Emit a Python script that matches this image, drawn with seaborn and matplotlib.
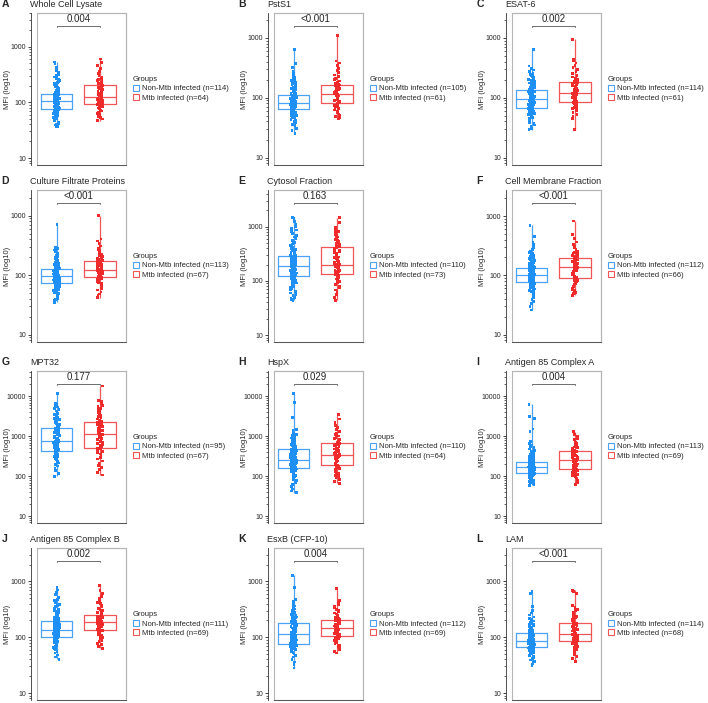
import numpy as np
import pandas as pd
import matplotlib
matplotlib.use("Agg")
import matplotlib.pyplot as plt
import seaborn as sns
from matplotlib.patches import Patch, Rectangle
from matplotlib.ticker import LogLocator, FuncFormatter, NullFormatter

# MFI values (one value per dot)
wcl_non = [36, 37, 39, 40, 42, 44, 46, 48, 50, 52, 54, 55, 57, 58, 60, 61, 62, 63, 65, 66, 67, 68, 70, 71, 72, 73, 75, 76,
           77, 78, 79, 80, 81, 82, 83, 84, 85, 86, 87, 88, 89, 90, 91, 92, 93, 94, 95, 96, 97, 98, 99, 100, 100, 101, 102, 103, 104,
           105, 106, 107, 108, 109, 110, 111, 112, 113, 114, 115, 116, 117, 118, 119, 120, 122, 124, 125, 127, 128, 130, 132, 133, 135, 137, 139, 141,
           143, 146, 149, 152, 155, 158, 162, 166, 170, 175, 180, 186, 192, 200, 208, 215, 225, 235, 245, 258, 270, 285, 300, 320, 340, 370, 420, 500, 530]
wcl_mtb = [47, 50, 53, 56, 60, 63, 66, 70, 73, 76, 79, 82, 85, 88, 90, 92,
           93, 95, 97, 99, 101, 103, 105, 107, 109, 111, 113, 115, 117, 119, 121, 124,
           126, 130, 134, 138, 142, 146, 150, 155, 160, 165, 170, 176, 182, 188, 194, 199,
           205, 212, 220, 228, 236, 245, 255, 270, 285, 300, 330, 360, 400, 460, 520, 600]

psts1_non = [25, 28, 31, 34, 36, 38, 40, 42, 43, 44, 46, 47, 48, 50, 51, 52, 53, 54, 55, 56, 57, 58, 59, 60, 62, 63,
             64, 65, 66, 67, 68, 69, 70, 71, 72, 72, 73, 74, 74, 75, 76, 76, 77, 78, 78, 79, 79, 80, 80, 81, 82, 82,
             83, 84, 85, 86, 86, 87, 88, 89, 90, 91, 92, 93, 94, 95, 96, 97, 98, 99, 100, 101, 102, 104, 105, 106, 108, 109, 111,
             113, 116, 119, 122, 126, 130, 134, 138, 143, 148, 153, 158, 164, 170, 177, 185, 193, 200, 210, 220, 235, 250, 280, 320, 370, 640]
psts1_mtb = [44, 46, 48, 50, 53, 56, 59, 62, 65, 68, 71, 73, 75, 77, 79,
             80, 83, 86, 89, 92, 95, 98, 101, 104, 107, 109, 111, 113, 115, 116,
             117, 120, 123, 126, 129, 132, 135, 138, 141, 144, 147, 150, 153, 156, 159, 163,
             168, 175, 182, 190, 200, 210, 225, 240, 260, 285, 310, 340, 380, 410, 1100]

esat6_non = [29, 31, 33, 35, 37, 39, 41, 43, 45, 47, 48, 50, 51, 52, 54, 55, 56, 57, 58, 59, 60, 61, 62, 63, 64, 65, 66, 67,
             68, 69, 70, 71, 72, 73, 74, 75, 76, 77, 78, 79, 80, 81, 82, 83, 84, 85, 86, 87, 88, 89, 89, 90, 91, 92, 92, 93, 94,
             95, 96, 97, 98, 100, 101, 102, 104, 105, 106, 108, 109, 111, 112, 114, 115, 117, 119, 120, 122, 124, 125, 127, 128, 130, 131, 133, 134,
             136, 139, 142, 145, 148, 151, 154, 157, 160, 164, 168, 172, 176, 180, 185, 190, 196, 202, 210, 218, 226, 235, 245, 255, 270, 290, 310, 337, 640]
esat6_mtb = [29, 45, 48, 52, 56, 60, 63, 66, 69, 72, 75, 78, 80, 82, 84,
             85, 88, 91, 94, 97, 100, 102, 104, 106, 108, 110, 112, 114, 116, 117,
             118, 122, 126, 130, 134, 138, 142, 147, 152, 157, 162, 167, 172, 177, 181, 185,
             190, 196, 203, 212, 222, 235, 250, 270, 295, 320, 350, 380, 410, 435, 940]

cfp_non = [35, 37, 39, 41, 43, 45, 47, 49, 51, 53, 55, 56, 58, 59, 60, 62, 63, 64, 65, 66, 67, 68, 69, 70, 71, 72, 73, 74,
           75, 76, 77, 78, 79, 80, 81, 82, 83, 84, 85, 86, 86, 87, 88, 89, 89, 90, 91, 91, 92, 93, 93, 94, 95, 95, 96, 96,
           97, 98, 99, 100, 101, 102, 103, 104, 105, 106, 107, 108, 109, 110, 111, 112, 113, 114, 115, 116, 117, 118, 119, 120, 121, 122, 123, 124, 126,
           128, 131, 134, 137, 140, 143, 146, 149, 152, 155, 158, 162, 166, 170, 175, 180, 186, 192, 200, 208, 216, 225, 235, 250, 265, 280, 295, 720]
cfp_mtb = [42, 45, 48, 52, 56, 60, 64, 68, 72, 75, 78, 81, 84, 87, 89, 91, 93,
           95, 97, 99, 101, 103, 105, 107, 109, 111, 113, 114, 115, 116, 117, 118, 120, 121,
           124, 127, 130, 133, 136, 139, 142, 145, 148, 151, 154, 157, 160, 164, 168, 171,
           175, 180, 186, 192, 199, 207, 216, 226, 238, 252, 268, 285, 310, 340, 375, 405, 1000]

cyto_non = [44, 45, 47, 50, 53, 56, 60, 64, 68, 72, 76, 80, 84, 88, 91, 94, 97, 100, 103, 106, 109, 111, 113, 115, 117, 119, 121,
            123, 125, 127, 129, 131, 133, 135, 137, 140, 142, 144, 147, 149, 152, 154, 157, 159, 162, 164, 167, 169, 172, 174, 177, 179, 181, 183, 185,
            187, 190, 193, 196, 199, 202, 205, 209, 212, 216, 220, 224, 228, 232, 236, 240, 245, 249, 254, 258, 263, 267, 272, 276, 280, 284, 287,
            292, 300, 310, 320, 330, 345, 360, 375, 390, 410, 430, 450, 475, 500, 530, 560, 600, 640, 690, 740, 800, 860, 930, 1000, 1100, 1250, 1400, 1490]
cyto_mtb = [44, 50, 56, 62, 68, 74, 80, 86, 92, 98, 103, 108, 113, 117, 121, 125, 129, 132, 134,
            138, 142, 146, 150, 154, 158, 162, 166, 170, 174, 178, 182, 186, 190, 193, 196, 198, 200,
            208, 216, 225, 235, 245, 255, 265, 276, 288, 300, 315, 330, 345, 360, 380, 400, 415, 428,
            440, 460, 480, 500, 525, 550, 580, 610, 640, 680, 720, 760, 800, 850, 900, 950, 1200, 1450]

cmf_non = [26, 30, 33, 36, 39, 42, 45, 48, 51, 53, 55, 57, 59, 61, 63, 65, 66, 67, 68, 69, 70, 71, 72, 73, 74, 75, 76, 77,
           78, 79, 80, 81, 82, 83, 84, 85, 86, 87, 88, 89, 90, 91, 92, 93, 94, 95, 96, 97, 98, 98, 99, 99, 100, 100, 101, 101,
           103, 104, 105, 106, 107, 108, 109, 110, 111, 112, 113, 114, 115, 116, 117, 118, 119, 120, 121, 122, 123, 124, 125, 126, 128, 129, 130, 132,
           134, 137, 140, 143, 146, 150, 154, 158, 162, 167, 172, 177, 183, 190, 197, 205, 214, 223, 233, 245, 258, 272, 290, 310, 330, 360, 453, 700]
cmf_mtb = [46, 49, 52, 55, 58, 61, 64, 67, 70, 73, 76, 79, 81, 83, 85, 87,
           88, 91, 94, 97, 100, 103, 106, 109, 112, 115, 118, 121, 124, 127, 130, 133, 136,
           140, 143, 146, 149, 152, 155, 158, 162, 166, 170, 174, 178, 182, 187, 191, 196,
           199, 204, 210, 216, 223, 231, 240, 250, 262, 275, 290, 310, 335, 365, 420, 495, 826]

mpt32_non = [100, 120, 140, 160, 180, 200, 215, 230, 245, 260, 275, 290, 305, 320, 335, 350, 362, 374, 386, 398, 410, 420, 428, 433,
             438, 450, 465, 480, 495, 510, 525, 540, 555, 570, 585, 600, 615, 630, 645, 660, 675, 690, 705, 720, 740, 755, 770, 778,
             800, 830, 860, 890, 920, 950, 985, 1020, 1060, 1100, 1140, 1180, 1220, 1260, 1300, 1340, 1380, 1420, 1460, 1500, 1540, 1570, 1585,
             1600, 1680, 1760, 1850, 1950, 2050, 2150, 2300, 2450, 2600, 2800, 3000, 3200, 3450, 3700, 4000, 4300, 4600, 5000, 5400, 5800, 6200, 6530, 11700]
mpt32_mtb = [108, 125, 145, 165, 190, 215, 240, 270, 300, 330, 360, 390, 420, 450, 475, 495, 505,
             512, 540, 570, 600, 635, 670, 710, 750, 790, 830, 880, 930, 980, 1030, 1080, 1120, 1145,
             1200, 1260, 1320, 1390, 1460, 1530, 1600, 1680, 1760, 1850, 1940, 2030, 2120, 2210, 2280, 2330,
             2350, 2500, 2700, 2900, 3100, 3350, 3600, 3900, 4200, 4600, 5000, 5500, 6000, 6600, 7300, 8000, 18200]

hspx_non = [39, 43, 48, 55, 62, 70, 78, 85, 92, 98, 104, 110, 115, 120, 124, 128, 132, 135, 138, 141, 144, 146, 148, 150, 152, 153, 155,
            157, 160, 163, 166, 169, 172, 175, 178, 182, 186, 190, 194, 198, 202, 206, 210, 214, 218, 222, 226, 230, 234, 238, 241, 244, 247, 250, 252,
            255, 262, 269, 276, 283, 290, 298, 306, 314, 322, 330, 338, 346, 355, 364, 373, 382, 391, 400, 410, 420, 430, 440, 450, 460, 470, 478,
            485, 500, 520, 540, 560, 580, 600, 625, 650, 675, 700, 730, 760, 790, 830, 870, 910, 960, 1010, 1070, 1130, 1200, 1280, 1400, 1500, 3000, 7000, 11700]
hspx_mtb = [67, 75, 83, 91, 99, 107, 115, 123, 131, 139, 147, 155, 163, 171, 179, 186,
            192, 200, 208, 216, 225, 234, 243, 252, 262, 272, 282, 292, 302, 312, 322, 334,
            342, 360, 380, 400, 420, 440, 460, 480, 505, 530, 555, 580, 605, 630, 655, 678,
            690, 730, 780, 830, 890, 950, 1020, 1100, 1200, 1300, 1450, 1650, 1900, 2200, 2700, 3450]

ag85a_non = [59, 62, 65, 68, 71, 74, 77, 80, 83, 86, 89, 92, 95, 97, 99, 101, 103, 105, 107, 109, 110, 111, 112, 113, 114, 115, 116, 118,
             119, 121, 123, 125, 127, 129, 131, 133, 135, 137, 139, 141, 143, 145, 147, 149, 151, 153, 155, 157, 159, 161, 163, 165, 167, 169, 171, 173,
             175, 177, 179, 181, 183, 185, 187, 189, 191, 193, 195, 197, 199, 201, 203, 205, 207, 209, 211, 213, 215, 217, 219, 221, 223, 225, 228, 231, 234,
             238, 245, 252, 260, 268, 277, 286, 296, 306, 318, 330, 345, 360, 380, 400, 425, 450, 480, 520, 560, 610, 670, 740, 1340, 1530, 2740, 3200, 6300]
ag85a_mtb = [63, 70, 77, 84, 91, 98, 104, 110, 116, 122, 127, 132, 136, 140, 143, 146, 148, 150,
             156, 162, 168, 175, 182, 189, 196, 203, 210, 217, 224, 230, 236, 242, 247, 251, 253,
             262, 272, 282, 292, 302, 312, 322, 332, 342, 352, 362, 372, 382, 393, 404, 414, 419,
             430, 450, 470, 490, 515, 540, 570, 600, 635, 670, 710, 760, 820, 890, 980, 1100, 1310]

ag85b_non = [40, 44, 48, 52, 56, 60, 63, 66, 69, 72, 75, 77, 79, 81, 83, 85, 87, 89, 91, 92, 93, 94, 95, 96, 97, 98, 99, 100,
             102, 103, 104, 105, 106, 107, 108, 109, 110, 111, 112, 113, 114, 115, 116, 117, 118, 119, 120, 121, 122, 124, 125, 127, 129, 130, 132, 133,
             135, 137, 139, 141, 143, 145, 147, 149, 151, 153, 155, 157, 159, 161, 163, 165, 167, 170, 173, 176, 179, 182, 185, 188, 190, 192, 194,
             197, 202, 207, 212, 218, 224, 230, 237, 244, 252, 260, 270, 280, 290, 300, 315, 330, 350, 370, 390, 420, 450, 480, 520, 580, 640, 700, 765]
ag85b_mtb = [63, 68, 73, 78, 83, 88, 93, 98, 103, 108, 112, 116, 120, 124, 127, 130, 132, 133,
             136, 139, 142, 145, 148, 151, 154, 157, 160, 164, 168, 172, 176, 179, 182, 184, 186,
             189, 192, 195, 199, 203, 207, 211, 215, 219, 223, 227, 231, 235, 238, 241, 243, 245,
             252, 262, 274, 286, 300, 315, 330, 350, 370, 395, 420, 450, 490, 540, 600, 680, 855]

esxb_non = [28, 32, 36, 40, 44, 47, 50, 53, 55, 57, 59, 61, 62, 63, 64, 65, 66, 67, 68, 69, 70, 71, 72, 73, 74, 74, 75, 75,
            77, 78, 79, 80, 82, 83, 84, 85, 87, 88, 89, 90, 92, 93, 94, 95, 97, 98, 99, 100, 102, 103, 104, 105, 107, 108, 110, 111,
            113, 115, 117, 119, 121, 123, 125, 127, 129, 131, 134, 137, 140, 143, 146, 149, 152, 155, 158, 161, 164, 166, 168, 170, 172, 173, 175, 176,
            178, 182, 186, 190, 195, 200, 205, 210, 216, 222, 229, 236, 244, 252, 260, 270, 280, 292, 305, 320, 340, 360, 385, 410, 440, 470, 765, 1290]
esxb_mtb = [52, 56, 60, 64, 68, 72, 76, 80, 84, 87, 90, 93, 96, 98, 100, 102, 103, 104,
            107, 110, 113, 116, 119, 122, 125, 128, 131, 134, 137, 140, 142, 144, 145, 146, 147,
            150, 153, 156, 159, 163, 167, 171, 175, 179, 183, 187, 191, 195, 199, 202, 205, 207,
            212, 218, 225, 232, 240, 250, 260, 272, 285, 300, 315, 335, 360, 390, 420, 450, 740]

lam_non = [31, 33, 35, 37, 39, 41, 43, 45, 47, 49, 50, 51, 52, 53, 54, 55, 56, 57, 58, 59, 60, 61, 62, 62, 63, 64, 64, 65,
           66, 67, 67, 68, 69, 69, 70, 71, 71, 72, 73, 73, 74, 75, 75, 76, 77, 77, 78, 79, 79, 80, 81, 81, 82, 83, 83, 84, 85,
           86, 87, 88, 89, 90, 91, 92, 93, 94, 95, 96, 97, 98, 99, 100, 101, 102, 103, 104, 105, 106, 107, 108, 109, 110, 112, 113, 115,
           117, 120, 123, 126, 129, 132, 135, 138, 141, 145, 149, 153, 157, 161, 166, 171, 176, 182, 188, 195, 205, 215, 230, 250, 270, 300, 350, 600, 656]
lam_mtb = [37, 41, 45, 49, 53, 57, 61, 65, 68, 71, 74, 76, 78, 80, 82, 83, 84,
           86, 88, 90, 92, 94, 96, 98, 100, 102, 104, 105, 106, 107, 108, 109, 110, 111,
           113, 117, 121, 125, 129, 133, 137, 141, 145, 149, 153, 157, 162, 167, 172, 177, 180,
           184, 190, 198, 206, 215, 225, 236, 248, 262, 278, 296, 316, 340, 370, 600, 650, 690]

letters = ["A", "B", "C", "D", "E", "F", "G", "H", "I", "J", "K", "L"]
titles = ["Whole Cell Lysate", "PstS1", "ESAT-6", "Culture Filtrate Proteins", "Cytosol Fraction",
          "Cell Membrane Fraction", "MPT32", "HspX", "Antigen 85 Complex A", "Antigen 85 Complex B",
          "EsxB (CFP-10)", "LAM"]
pvals = ["0.004", "<0.001", "0.002", "<0.001", "0.163", "<0.001", "0.177", "0.029", "0.004",
         "0.002", "0.004", "<0.001"]
non_sets = [wcl_non, psts1_non, esat6_non, cfp_non, cyto_non, cmf_non, mpt32_non, hspx_non,
            ag85a_non, ag85b_non, esxb_non, lam_non]
mtb_sets = [wcl_mtb, psts1_mtb, esat6_mtb, cfp_mtb, cyto_mtb, cmf_mtb, mpt32_mtb, hspx_mtb,
            ag85a_mtb, ag85b_mtb, esxb_mtb, lam_mtb]
ylims = [(7.5, 4000), (7.5, 2600), (7.5, 2600), (7.5, 2700), (7.5, 4700), (7.5, 2750),
         (6.8, 43000), (6.8, 43000), (6.8, 43000), (7.5, 3950), (7.5, 3950), (7.5, 3950)]

groups = ["Non-Mtb infected", "Mtb infected"]
dot_colors = ["#1E8FF5", "#EE2A2A"]
box_colors = ["#4BA3F7", "#F25555"]

sns.set_style("ticks")
plt.rcParams["font.family"] = ["Liberation Sans", "DejaVu Sans"]
np.random.seed(3)

fig = plt.figure(figsize=(7.08, 7.03), dpi=100)
col_left = [37, 274, 512]
row_top = [13, 190, 371, 548]
W, H = 89, 152

for i in range(12):
    r, c = divmod(i, 3)
    ax = fig.add_axes([col_left[c] / 708, 1 - (row_top[r] + H) / 703, W / 708, H / 703])
    non, mtb = non_sets[i], mtb_sets[i]
    df = pd.DataFrame({"group": [groups[0]] * len(non) + [groups[1]] * len(mtb),
                       "MFI": non + mtb})

    sns.boxplot(data=df, x="group", y="MFI", hue="group", order=groups, hue_order=groups,
                palette=box_colors, fill=False, whis=(0, 100), showcaps=False, width=0.72,
                linewidth=0.9, log_scale=True, legend=False, ax=ax)
    sns.stripplot(data=df, x="group", y="MFI", hue="group", order=groups, hue_order=groups,
                  palette=dot_colors, jitter=0.065, size=2, marker="s", linewidth=0,
                  log_scale=True, legend=False, ax=ax)

    ax.set_xlim(-0.45, 1.6)
    ax.set_ylim(*ylims[i])
    ax.yaxis.set_major_locator(LogLocator(base=10))
    ax.yaxis.set_minor_locator(LogLocator(base=10, subs=np.arange(2, 10)))
    ax.yaxis.set_major_formatter(FuncFormatter(lambda v, p: f"{v:.0f}"))
    ax.yaxis.set_minor_formatter(NullFormatter())
    ax.tick_params(axis="y", which="major", length=2.5, width=0.6, labelsize=5, pad=1)
    ax.tick_params(axis="y", which="minor", length=1.3, width=0.5)
    ax.set_xticks([])
    ax.set_xlabel("")
    ax.set_ylabel("MFI (log10)", fontsize=5.5)
    ax.yaxis.set_label_coords(-0.29, 0.5)

    for s in ["top", "right"]:
        ax.spines[s].set_color("#b5b5b5")
        ax.spines[s].set_linewidth(0.8)
    ax.spines["bottom"].set_color("#555555")
    ax.spines["bottom"].set_linewidth(0.7)
    ax.spines["left"].set_position(("outward", 4.5))
    ax.spines["left"].set_color("#333333")
    ax.spines["left"].set_linewidth(0.6)
    ax.add_patch(Rectangle((0, 0), 1, 1, transform=ax.transAxes, fill=False,
                           ec="#b5b5b5", lw=0.8, clip_on=False))

    # p-value bracket
    trans = ax.get_xaxis_transform()
    ax.plot([0, 0, 1, 1], [0.905, 0.915, 0.915, 0.905], transform=trans,
            color="#555555", lw=0.6, clip_on=False)
    ax.text(0.5, 0.925, pvals[i], transform=trans, ha="center", va="bottom", fontsize=7)

    ax.annotate(titles[i], xy=(0, 1), xycoords="axes fraction", xytext=(-5, 3),
                textcoords="offset points", fontsize=6.5, ha="left", va="bottom")
    ax.annotate(letters[i], xy=(0, 1), xycoords="axes fraction", xytext=(-25.5, 3),
                textcoords="offset points", fontsize=7.5, fontweight="bold", ha="left", va="bottom")

    handles = [Patch(facecolor="white", edgecolor=box_colors[k], lw=0.8,
                     label=f"{groups[k]} (n={len(d)})") for k, d in enumerate((non, mtb))]
    leg = ax.legend(handles=handles, title="Groups", loc="center left", bbox_to_anchor=(1.08, 0.5),
                    frameon=False, fontsize=5.5, title_fontsize=5.5, handlelength=0.8,
                    handleheight=0.8, handletextpad=0.4, labelspacing=0.25, borderaxespad=0,
                    borderpad=0)
    leg._legend_box.align = "left"

fig.savefig("out.png", dpi=100)
